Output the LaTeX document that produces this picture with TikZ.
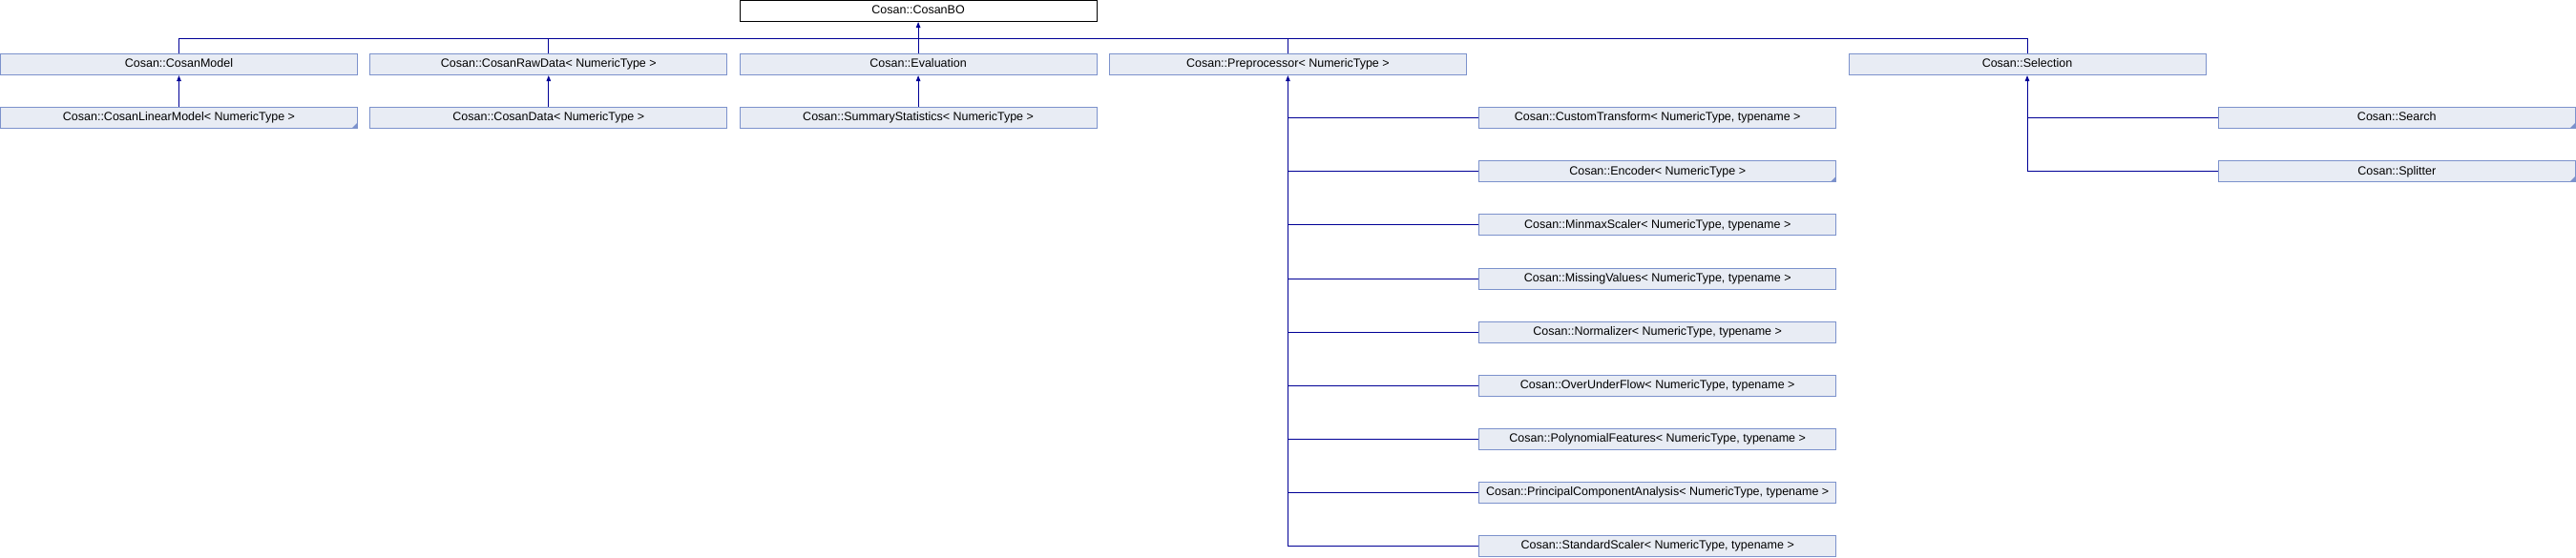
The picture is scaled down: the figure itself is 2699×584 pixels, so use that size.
\documentclass[tikz,border=0pt]{standalone}
\usepackage{fontspec}
\setmainfont{Liberation Sans}
\usetikzlibrary{arrows.meta}
\definecolor{boxfill}{RGB}{232,236,244}
\definecolor{boxline}{RGB}{124,146,204}
\definecolor{linkcol}{RGB}{0,0,150}
\begin{document}
\begin{tikzpicture}[x=1pt,y=-1pt,
  cls/.style={draw=boxline, fill=boxfill, line width=1pt, minimum width=374pt, minimum height=22pt,
    inner sep=0pt, text height=9pt, text depth=2.5pt, font=\fontsize{12.5}{14}\selectfont},
  root/.style={cls, draw=black, fill=white},
  link/.style={draw=linkcol, line width=1pt},
  inh/.style={link, -{Triangle[length=6pt,width=4.5pt]}},
  more/.style={path picture={\fill[boxline] (path picture bounding box.south east) -- ++(-6pt,0pt) -- ++(6pt,6pt) -- cycle;}}]
\useasboundingbox (0,0) rectangle (2699,584);
% row 0
\node[root] (bo) at (962.1,11.5) {Cosan::CosanBO};
% row 1
\node[cls] (cm)  at (187.5,67.6)  {Cosan::CosanModel};
\node[cls] (raw) at (574.8,67.6)  {Cosan::CosanRawData< NumericType >};
\node[cls] (ev)  at (962.1,67.6)  {Cosan::Evaluation};
\node[cls] (pre) at (1349.4,67.6) {Cosan::Preprocessor< NumericType >};
\node[cls] (sel) at (2124.0,67.6) {Cosan::Selection};
% row 2
\node[cls,more] (clm) at (187.5,123.7) {Cosan::CosanLinearModel< NumericType >};
\node[cls] (cd)  at (574.8,123.7) {Cosan::CosanData< NumericType >};
\node[cls] (ss)  at (962.1,123.7) {Cosan::SummaryStatistics< NumericType >};
\node[cls,more] (srch) at (2511.3,123.7) {Cosan::Search};
\node[cls,more] (spl)  at (2511.3,179.8) {Cosan::Splitter};
% preprocessor children
\node[cls] (ct)  at (1736.7,123.7) {Cosan::CustomTransform< NumericType, typename >};
\node[cls,more] (enc) at (1736.7,179.8) {Cosan::Encoder< NumericType >};
\node[cls] (mm)  at (1736.7,235.9) {Cosan::MinmaxScaler< NumericType, typename >};
\node[cls] (mv)  at (1736.7,292.0) {Cosan::MissingValues< NumericType, typename >};
\node[cls] (nor) at (1736.7,348.1) {Cosan::Normalizer< NumericType, typename >};
\node[cls] (ouf) at (1736.7,404.2) {Cosan::OverUnderFlow< NumericType, typename >};
\node[cls] (pf)  at (1736.7,460.3) {Cosan::PolynomialFeatures< NumericType, typename >};
\node[cls] (pca) at (1736.7,516.4) {Cosan::PrincipalComponentAnalysis< NumericType, typename >};
\node[cls] (std) at (1736.7,572.5) {Cosan::StandardScaler< NumericType, typename >};
% bus
\coordinate (bus) at (962.1,40.7);
\draw[link] (cm.north) -- (cm.north |- bus) -- (sel.north |- bus) -- (sel.north);
\draw[link] (raw.north) -- (raw.north |- bus);
\draw[link] (ev.north) -- (bus);
\draw[link] (pre.north) -- (pre.north |- bus);
\draw[inh] (bus) -- (bo.south);
% simple inheritance
\draw[inh] (clm.north) -- (cm.south);
\draw[inh] (cd.north) -- (raw.south);
\draw[inh] (ss.north) -- (ev.south);
% preprocessor tree
\draw[link] (pre.south |- ct.west) -- (pre.south |- std.west) -- (std.west);
\foreach \c in {ct,enc,mm,mv,nor,ouf,pf,pca}
  \draw[link] (pre.south |- \c.west) -- (\c.west);
\draw[inh] (pre.south |- ct.west) -- (pre.south);
% selection tree
\draw[link] (sel.south |- srch.west) -- (srch.west);
\draw[link] (sel.south |- srch.west) -- (sel.south |- spl.west) -- (spl.west);
\draw[inh] (sel.south |- srch.west) -- (sel.south);
\end{tikzpicture}
\end{document}
